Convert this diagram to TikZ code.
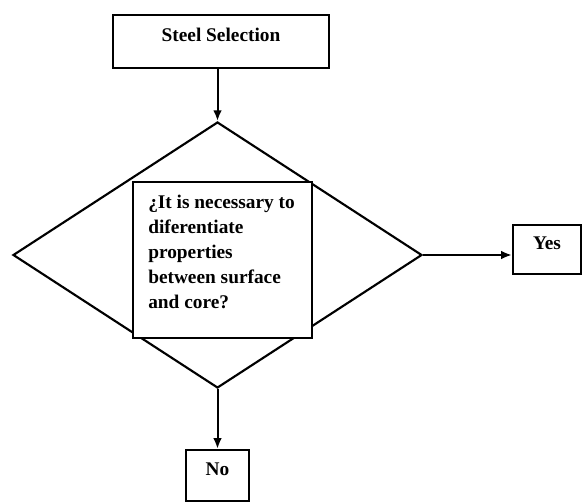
\documentclass[tikz,border=0pt]{standalone}
\usepackage{fontspec}
\setmainfont{Liberation Serif}
\usetikzlibrary{shapes.geometric, arrows.meta}

\begin{document}
\begin{tikzpicture}[x=0.75pt, y=-0.75pt,
		box/.style={draw, line width=1.8pt, inner sep=0pt, font=\fontsize{14.5}{18.75}\selectfont\bfseries},
		txt/.style={inner sep=0pt, align=left, font=\fontsize{14.5}{18.75}\selectfont\bfseries},
		flow/.style={line width=1.5pt, ->, >={Latex[length=8pt, width=6.5pt]}}]
			
			\useasboundingbox (0,0) rectangle (583,503);
			\node[box, minimum width=162pt, minimum height=39.75pt, text height=10pt, text depth=10pt] (steel) at (221,41.5) {Steel Selection};
			\node[draw, diamond, line width=1.6pt, inner sep=0pt, minimum width=306.75pt, minimum height=199.5pt] (quest) at (217.5,255) {};
			\node[box, fill=white, minimum width=134.25pt, minimum height=117pt] (questbox) at (222.5,260) {};
			\node[txt, anchor=north west] (questtext) at (148,195) {¿It is necessary to\\ diferentiate\\ properties\\ between surface\\ and core?};
			\node[box, minimum width=51pt, minimum height=36.75pt, text height=10pt, text depth=10pt] (yes) at (547,249.5) {Yes};
			\node[box, minimum width=47.25pt, minimum height=38.25pt, text height=10pt, text depth=10pt] (no) at (217.5,475.5) {No};
			\draw[flow] (quest.north |- steel.south) -- (quest.north);
			\draw[flow] (quest.east) -- (quest.east -| yes.west);
			\draw[flow] (quest.south) -- (no.north);
		\end{tikzpicture}
\end{document}
